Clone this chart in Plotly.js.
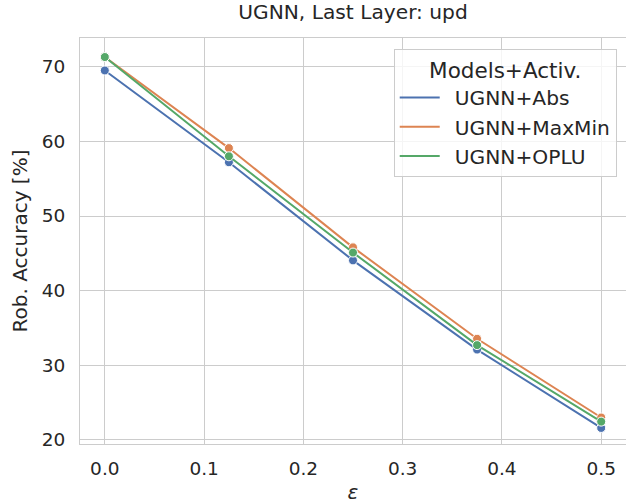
<!DOCTYPE html>
<html>
<head>
<meta charset="utf-8">
<script src="https://cdn.plot.ly/plotly-3.0.1.min.js"></script>
<style>html,body{margin:0;padding:0;background:#fff;}#chart{width:626px;height:504px;}</style>
</head>
<body>
<div id="chart"></div>
<script>
const epsilon = [0.0, 0.125, 0.25, 0.375, 0.5];
const seriesNames = ["UGNN+Abs", "UGNN+MaxMin", "UGNN+OPLU"];
const absAcc = [69.5, 57.2, 44.05, 32.1, 21.6];
const maxminAcc = [71.3, 59.1, 45.8, 33.55, 23.0];
const opluAcc = [71.3, 58.0, 45.1, 32.7, 22.45];
const colors = ["#4c72b0", "#dd8452", "#55a868"];
const xTicks = [0.0, 0.1, 0.2, 0.3, 0.4, 0.5];
const xTickLabels = ["0.0", "0.1", "0.2", "0.3", "0.4", "0.5"];
const yTicks = [20, 30, 40, 50, 60, 70];

const allY = [absAcc, maxminAcc, opluAcc];
const traces = allY.map((ys, i) => ({
  x: epsilon, y: ys, name: seriesNames[i], type: 'scatter', mode: 'lines+markers',
  showlegend: false,
  line: {color: colors[i], width: 2},
  marker: {color: colors[i], size: 9, line: {color: '#ffffff', width: 1}}
}));
// legend entries (line only, as in the reference)
seriesNames.forEach((n, i) => traces.push({
  x: [null], y: [null], name: '\u2002' + n, type: 'scatter', mode: 'lines',
  legendgroup: 'g' + i, line: {color: colors[i], width: 2}
}));

const font = {family: 'DejaVu Sans, sans-serif', color: '#262626', size: 19};
const layout = {
  width: 626, height: 504,
  margin: {l: 80, r: 0, t: 38, b: 60},
  paper_bgcolor: '#ffffff', plot_bgcolor: '#ffffff',
  font: font,
  showlegend: true,
  title: {text: 'UGNN, Last Layer: upd', font: {family: font.family, size: 20.2, color: '#262626'}, x: 0.5, xref: 'paper', xanchor: 'center', y: 0.976, yanchor: 'middle'},
  xaxis: {
    range: [-0.025, 0.525], tickvals: xTicks, ticktext: xTickLabels,
    showgrid: true, gridcolor: '#cccccc', gridwidth: 1, zeroline: false,
    showline: true, linecolor: '#cccccc', linewidth: 1, mirror: true,
    ticks: '', ticklabelstandoff: 8, tickfont: {size: 18.5, color: '#262626'},
    title: {text: '<i>ε</i>', font: {size: 20, color: '#262626'}, standoff: 7}
  },
  yaxis: {
    range: [19.45, 73.85], tickvals: yTicks,
    showgrid: true, gridcolor: '#cccccc', gridwidth: 1, zeroline: false,
    showline: true, linecolor: '#cccccc', linewidth: 1, mirror: true,
    ticks: '', ticklabelstandoff: 10, tickfont: {size: 18.5, color: '#262626'},
    title: {text: 'Rob. Accuracy [%]', font: {size: 20, color: '#262626'}, standoff: 8}
  },
  legend: {
    x: 0.983, xanchor: 'right', y: 0.973, yanchor: 'top',
    bgcolor: 'rgba(255,255,255,0.8)', bordercolor: '#cccccc', borderwidth: 1,
    font: {size: 20.2, color: '#262626'},
    title: {text: 'Models+Activ.', font: {size: 21.5, color: '#262626'}, side: 'top center'},
    itemwidth: 40, tracegroupgap: 0, traceorder: 'grouped'
  }
};
Plotly.newPlot('chart', traces, layout, {displayModeBar: false, staticPlot: true});
</script>
</body>
</html>
